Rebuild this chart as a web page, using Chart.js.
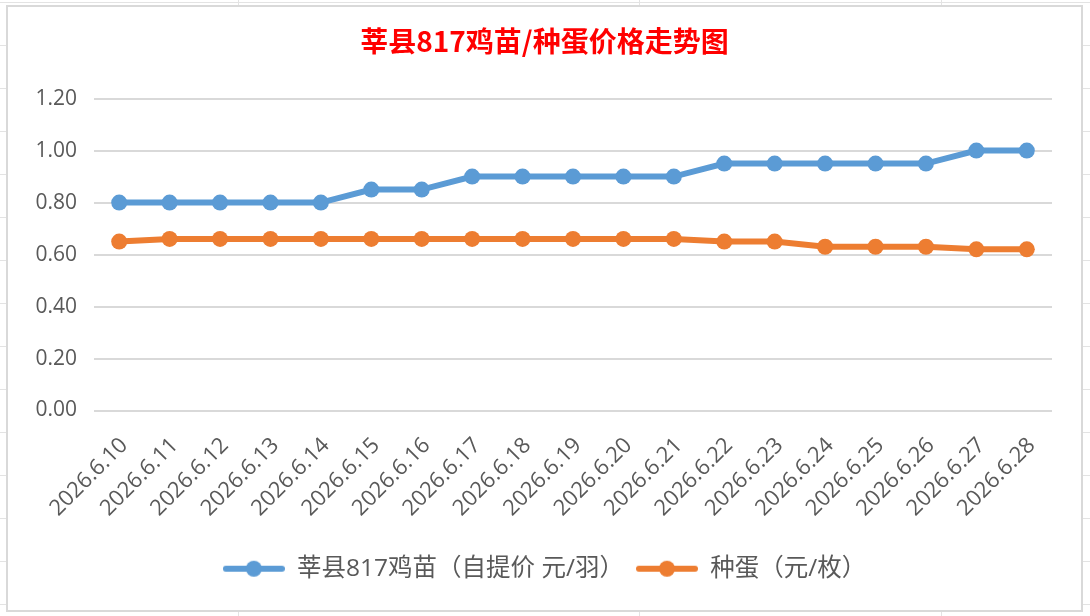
<!DOCTYPE html>
<html>
<head>
<meta charset="utf-8">
<script src="https://cdn.jsdelivr.net/npm/chart.js@4"></script>
<style>
html,body{margin:0;padding:0;}
body{
width:1090px;height:616px;position:relative;overflow:hidden;background:#fff;
background-image:
linear-gradient(to right, transparent 238px, #e3e3e3 238px, #e3e3e3 239px, transparent 239px, transparent 639px, #e3e3e3 639px, #e3e3e3 640px, transparent 640px, transparent 941px, #e3e3e3 941px, #e3e3e3 942px, transparent 942px),
repeating-linear-gradient(to bottom, #e3e3e3 0px, #e3e3e3 1px, transparent 1px, transparent 43px);
background-position:0 0, 0 2px;
}
#frame{position:absolute;left:6px;top:5px;width:1077px;height:607px;border:2px solid #d9d9d9;box-sizing:border-box;background:#fff;}
#wrap{position:absolute;left:8px;top:7px;width:1073px;height:603px;}
</style>
</head>
<body>
<div id="frame"></div>
<div id="wrap"><canvas id="chart"></canvas></div>
<script>
const dates = [
"2026.6.10","2026.6.11","2026.6.12","2026.6.13","2026.6.14","2026.6.15","2026.6.16",
"2026.6.17","2026.6.18","2026.6.19","2026.6.20","2026.6.21","2026.6.22","2026.6.23",
"2026.6.24","2026.6.25","2026.6.26","2026.6.27","2026.6.28"
];

// 莘县817鸡苗 (元/羽)
const chickPrice = [0.80,0.80,0.80,0.80,0.80,0.85,0.85,0.90,0.90,0.90,0.90,0.90,0.95,0.95,0.95,0.95,0.95,1.00,1.00];

// 种蛋 (元/枚)
const eggPrice = [0.65,0.66,0.66,0.66,0.66,0.66,0.66,0.66,0.66,0.66,0.66,0.66,0.65,0.65,0.63,0.63,0.63,0.62,0.62];

const seriesNames = ["莘县817鸡苗（自提价 元/羽）","种蛋（元/枚）"];

const blue = "#5B9BD5";
const orange = "#ED7D31";
const txt = "#595959";
const fontFam = "'Open Sans','Noto Sans CJK SC',sans-serif";

// legend marker: line with dot
function legendMark(color){
const c = document.createElement("canvas");
c.width = 62;
c.height = 18;
const g = c.getContext("2d");
g.strokeStyle = color;
g.lineWidth = 6;
g.lineCap = "round";
g.beginPath();
g.moveTo(3,9);
g.lineTo(59,9);
g.stroke();
g.fillStyle = color;
g.beginPath();
g.arc(31,9,8,0,Math.PI*2);
g.fill();
return c;
}

const marks = [legendMark(blue), legendMark(orange)];

new Chart(
document.getElementById("chart"),
{
type:"line",
data:{
labels:dates,
datasets:[
{
label:seriesNames[0],
data:chickPrice,
borderColor:blue,
backgroundColor:blue,
borderWidth:6,
pointRadius:8,
pointHoverRadius:8,
pointBorderWidth:0,
tension:0
},
{
label:seriesNames[1],
data:eggPrice,
borderColor:orange,
backgroundColor:orange,
borderWidth:6,
pointRadius:8,
pointHoverRadius:8,
pointBorderWidth:0,
tension:0
}
]
},
options:{
responsive:true,
maintainAspectRatio:false,
animation:false,
layout:{
padding:{left:0,right:0,top:0,bottom:19}
},
plugins:{
title:{
display:true,
text:"莘县817鸡苗/种蛋价格走势图",
color:"#FF0000",
font:{family:"'Noto Sans CJK SC',sans-serif",size:28,weight:"bold"},
padding:{top:18,bottom:40}
},
legend:{
position:"bottom",
labels:{
color:txt,
font:{family:fontFam,size:24.5},
usePointStyle:true,
pointStyleWidth:62,
padding:12,
generateLabels:(chart)=>{
const items = Chart.defaults.plugins.legend.labels.generateLabels(chart);
items.forEach((it,i)=>{
it.pointStyle = marks[i];
});
return items;
}
}
},
tooltip:{enabled:false}
},
scales:{
x:{
offset:true,
grid:{display:false,drawTicks:false},
border:{display:false},
ticks:{
color:txt,
font:{family:fontFam,size:22},
autoSkip:false,
minRotation:45,
maxRotation:45,
padding:22,
labelOffset:5
},
afterFit:(s)=>{ s.height = 134; }
},
y:{
min:0,
max:1.2,
grid:{color:"#d9d9d9",lineWidth:2,drawTicks:false},
border:{display:false},
ticks:{
stepSize:0.2,
color:txt,
font:{family:fontFam,size:21},
padding:17,
callback:(v)=>Number(v).toFixed(2)
},
afterFit:(s)=>{ s.width = 86; }
},
// empty right gutter so the title stays centred on the whole chart
gutter:{
position:"right",
type:"linear",
grid:{display:false,drawTicks:false},
border:{display:false},
ticks:{display:false},
afterFit:(s)=>{ s.width = 29; }
}
}
}
}
);
</script>
</body>
</html>
